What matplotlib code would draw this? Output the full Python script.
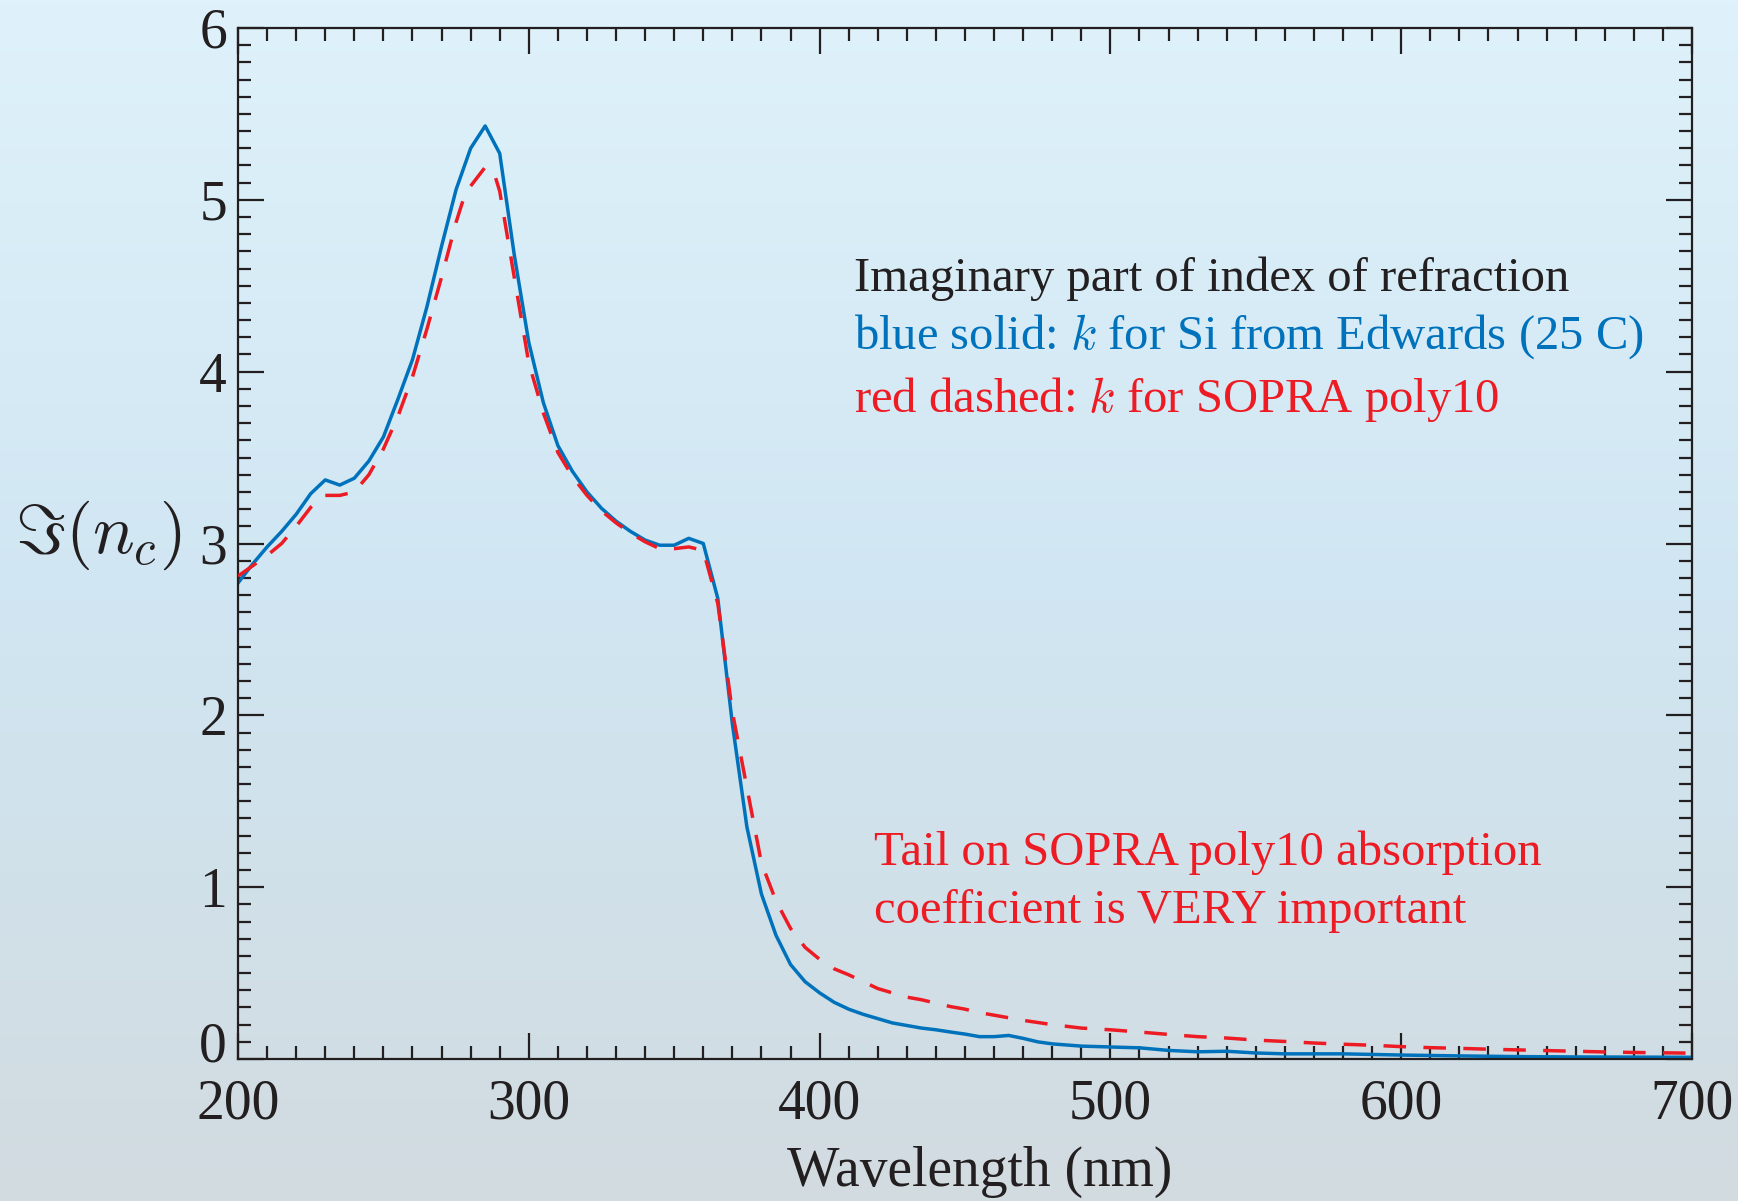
import matplotlib
matplotlib.use("Agg")
import matplotlib.pyplot as plt
import numpy as np
from matplotlib.colors import LinearSegmentedColormap
from matplotlib.ticker import MultipleLocator, FuncFormatter

# blue solid: k for Si from Edwards (25 C)
wl_blue = [200, 205, 210, 215, 220, 225, 230, 235, 240, 245, 250, 255, 260,
           265, 270, 275, 280, 285, 290, 295, 300, 305, 310, 315, 320, 325,
           330, 335, 340, 345, 350, 355, 360, 365, 370, 375, 380, 385, 390,
           395, 400, 405, 410, 415, 420, 425, 430, 435, 440, 445, 450, 455,
           460, 465, 470, 475, 480, 490, 500, 510, 520, 530, 540, 550, 560,
           580, 600, 620, 640, 660, 680, 700]
k_blue = [2.77, 2.88, 2.98, 3.07, 3.17, 3.29, 3.37, 3.34, 3.38, 3.48, 3.62,
          3.84, 4.07, 4.38, 4.73, 5.06, 5.30, 5.43, 5.27, 4.68, 4.17, 3.82,
          3.57, 3.42, 3.30, 3.205, 3.13, 3.07, 3.02, 2.99, 2.99, 3.03, 3.00,
          2.68, 1.95, 1.35, 0.96, 0.72, 0.55, 0.45, 0.385, 0.33, 0.29, 0.26,
          0.235, 0.21, 0.195, 0.18, 0.17, 0.157, 0.145, 0.13, 0.13, 0.137,
          0.12, 0.10, 0.088, 0.075, 0.07, 0.065, 0.05, 0.042, 0.045, 0.035,
          0.03, 0.03, 0.023, 0.018, 0.014, 0.012, 0.011, 0.01]

# red dashed: k for SOPRA poly10
wl_red = [200, 205, 210, 215, 220, 225, 230, 235, 240, 245, 250, 255, 260,
          265, 270, 275, 278, 280, 285, 288, 290, 295, 300, 305, 310, 315,
          320, 325, 330, 335, 340, 345, 350, 355, 360, 365, 370, 375, 380,
          385, 390, 395, 400, 405, 410, 415, 420, 425, 430, 435, 440, 445,
          450, 455, 460, 470, 480, 490, 500, 510, 520, 530, 540, 550, 560,
          570, 580, 590, 600, 610, 620, 630, 640, 650, 660, 670, 680, 690, 700]
k_red = [2.81, 2.87, 2.93, 3.00, 3.10, 3.21, 3.28, 3.28, 3.30, 3.40, 3.55,
         3.74, 3.97, 4.25, 4.55, 4.87, 5.03, 5.08, 5.19, 5.16, 5.05, 4.55,
         4.05, 3.76, 3.53, 3.39, 3.28, 3.19, 3.12, 3.06, 3.01, 2.97, 2.97,
         2.98, 2.96, 2.65, 2.02, 1.58, 1.14, 0.92, 0.76, 0.65, 0.58, 0.525,
         0.49, 0.45, 0.41, 0.385, 0.36, 0.345, 0.325, 0.305, 0.29, 0.27,
         0.255, 0.225, 0.20, 0.18, 0.17, 0.157, 0.143, 0.13, 0.122, 0.11,
         0.102, 0.093, 0.086, 0.08, 0.072, 0.066, 0.062, 0.057, 0.053, 0.049,
         0.045, 0.041, 0.038, 0.036, 0.034]

ink = "#231f20"
blue = "#0072bc"
red = "#ed1c24"

plt.rcParams["font.family"] = ["Liberation Serif", "DejaVu Serif"]
plt.rcParams["mathtext.fontset"] = "cm"

fig = plt.figure(figsize=(17.38, 12.01), dpi=100)

# background gradient over whole figure
bg = fig.add_axes([0, 0, 1, 1], zorder=-10)
cmap = LinearSegmentedColormap.from_list(
    "bg", [(0.0, "#dff2fb"), (0.5, "#d0e6f2"), (1.0, "#d2dbe0")])
bg.imshow(np.linspace(0, 1, 256).reshape(-1, 1), aspect="auto", cmap=cmap,
          extent=[0, 1, 1, 0])
bg.set_axis_off()

ax = fig.add_axes([238 / 1738, 1 - 1059 / 1201, 1454 / 1738, 1031 / 1201])
ax.patch.set_alpha(0)

ax.plot(wl_red, k_red, color=red, lw=2.5, dashes=(6.5, 5.0), zorder=3)
ax.plot(wl_blue, k_blue, color=blue, lw=2.5, zorder=2)

ax.set_xlim(200, 700)
ax.set_ylim(0, 6)
ax.xaxis.set_major_locator(MultipleLocator(100))
ax.xaxis.set_minor_locator(MultipleLocator(10))
ax.yaxis.set_major_locator(MultipleLocator(1))
ax.yaxis.set_minor_locator(MultipleLocator(0.1))
# "0" is drawn separately, a little above its tick, clear of "200"
ax.yaxis.set_major_formatter(FuncFormatter(lambda v, p: "" if v == 0 else f"{v:g}"))
ax.tick_params(which="both", direction="in", top=True, right=True,
               color=ink, width=1.6)
ax.tick_params(which="major", length=19)
ax.tick_params(which="minor", length=9.5)
ax.tick_params(axis="x", which="major", labelsize=40, labelcolor=ink, pad=14)
ax.tick_params(axis="y", which="major", labelsize=40, labelcolor=ink, pad=8)
for sp in ax.spines.values():
    sp.set_color(ink)
    sp.set_linewidth(1.6)
ax.annotate("0", xy=(0, 0), xycoords="axes fraction", xytext=(-8, 8),
            textcoords="offset points", ha="right", va="center",
            fontsize=40, color=ink)

fig.text(980 / 1738, 1 - 1172 / 1201, "Wavelength (nm)", fontsize=40,
         color=ink, ha="center", va="center")
fig.text(98 / 1738, 1 - 535 / 1201, r"$\Im(n_c)$", fontsize=50,
         color=ink, ha="center", va="center")

fig.text(854 / 1738, 1 - 279 / 1201, "Imaginary part of index of refraction",
         fontsize=35, color=ink, ha="left", va="center")
fig.text(854 / 1738, 1 - 337 / 1201,
         "blue solid: $\\mathit{k}$ for Si from Edwards (25 C)",
         fontsize=35, color=blue, ha="left", va="center")
fig.text(854 / 1738, 1 - 399 / 1201, "red dashed: $\\mathit{k}$ for SOPRA poly10",
         fontsize=35, color=red, ha="left", va="center")
fig.text(874 / 1738, 1 - 853 / 1201, "Tail on SOPRA poly10 absorption",
         fontsize=35, color=red, ha="left", va="center")
fig.text(874 / 1738, 1 - 911 / 1201, "coefficient is VERY important",
         fontsize=35, color=red, ha="left", va="center")

fig.savefig("out.png", dpi=100)
